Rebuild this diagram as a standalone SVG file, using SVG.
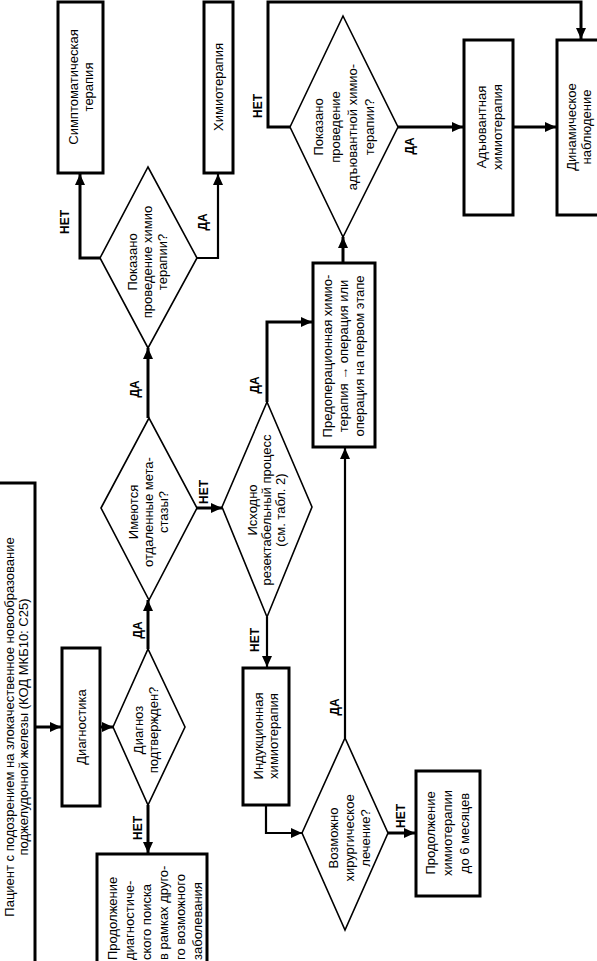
<svg xmlns="http://www.w3.org/2000/svg" width="597" height="961" viewBox="0 0 597 961">
<style>
  .box{fill:#fff;stroke:#000;stroke-width:3}
  .dia{fill:#fff;stroke:#000;stroke-width:1.6}
  .ln{fill:none;stroke:#000;stroke-width:2.2}
  .tk{fill:none;stroke:#000;stroke-width:3}
  text{font-family:"Liberation Sans","DejaVu Sans",sans-serif;font-size:13px;fill:#000}
  .c{text-anchor:middle}
  .lbl{font-size:12px;font-weight:bold;text-anchor:middle}
</style>
<defs>
  <marker id="ar" markerUnits="userSpaceOnUse" markerWidth="14" markerHeight="12" refX="11" refY="5" orient="auto">
    <path d="M0,0 L11,5 L0,10 Z" fill="#000"/>
  </marker>
</defs>
<rect width="597" height="961" fill="#fff"/>

<g id="connectors">
  <line class="tk" x1="35" y1="727" x2="61" y2="727" marker-end="url(#ar)"/>
  <line class="tk" x1="100" y1="727" x2="113" y2="727" marker-end="url(#ar)"/>
  <line class="tk" x1="148" y1="649" x2="148" y2="600" marker-end="url(#ar)"/>
  <line class="tk" x1="148" y1="805" x2="148" y2="853" marker-end="url(#ar)"/>
  <line class="tk" x1="148" y1="418" x2="148" y2="348" marker-end="url(#ar)"/>
  <line class="tk" x1="197" y1="508" x2="222" y2="508" marker-end="url(#ar)"/>
  <polyline class="tk" points="100,258 80,258 80,174" marker-end="url(#ar)"/>
  <polyline class="ln" points="197,258 218,258 218,174" marker-end="url(#ar)"/>
  <polyline class="tk" points="267,402 267,322 312,322" marker-end="url(#ar)"/>
  <line class="ln" x1="267" y1="617" x2="267" y2="667" marker-end="url(#ar)"/>
  <polyline class="ln" points="266,805 266,833 302,833" marker-end="url(#ar)"/>
  <line class="ln" x1="345" y1="738" x2="345" y2="448" marker-end="url(#ar)"/>
  <line class="tk" x1="388" y1="833" x2="415" y2="833" marker-end="url(#ar)"/>
  <line class="tk" x1="343" y1="262" x2="343" y2="237" marker-end="url(#ar)"/>
  <polyline class="tk" points="290,127 268,127 268,2 581,2 581,39" marker-end="url(#ar)"/>
  <line class="tk" x1="398" y1="127" x2="463" y2="127" marker-end="url(#ar)"/>
  <line class="tk" x1="513" y1="127" x2="556" y2="127" marker-end="url(#ar)"/>
  <g id="labels">
    <text class="lbl" transform="translate(142,630) rotate(-90)">ДА</text>
    <text class="lbl" transform="translate(142,828) rotate(-90)">НЕТ</text>
    <text class="lbl" transform="translate(208,492) rotate(-90)">НЕТ</text>
    <text class="lbl" transform="translate(139,389) rotate(-90)">ДА</text>
    <text class="lbl" transform="translate(69,222) rotate(-90)">НЕТ</text>
    <text class="lbl" transform="translate(207,222) rotate(-90)">ДА</text>
    <text class="lbl" transform="translate(259,385) rotate(-90)">ДА</text>
    <text class="lbl" transform="translate(259,640) rotate(-90)">НЕТ</text>
    <text class="lbl" transform="translate(339,707) rotate(-90)">ДА</text>
    <text class="lbl" transform="translate(405,816) rotate(-90)">НЕТ</text>
    <text class="lbl" transform="translate(262,106) rotate(-90)">НЕТ</text>
    <text class="lbl" transform="translate(414,146) rotate(-90)">ДА</text>
  </g>
</g>

<g id="patient">
  <rect class="box" x="-5" y="483" width="40" height="490"/>
  <g transform="translate(16,727) rotate(-90)">
    <text class="c" y="-2" font-size="12.2">Пациент с подозрением на злокачественное новообразование</text>
    <text class="c" y="12" font-size="12.2">поджелудочной железы (КОД МКБ10: С25)</text>
  </g>
</g>

<g id="diagnostika">
  <rect class="box" x="62" y="648" width="38" height="158"/>
  <text class="c" transform="translate(81,727) rotate(-90)" y="5" font-size="14">Диагностика</text>
</g>

<g id="d-diagnoz">
  <polygon class="dia" points="113,727 148,649 185,727 148,805"/>
  <g transform="translate(146,730) rotate(-90)">
    <text class="c" y="-3">Диагноз</text>
    <text class="c" y="12">подтвержден?</text>
  </g>
</g>

<g id="prodolzhenie-diag">
  <rect class="box" x="97" y="854" width="110" height="130"/>
  <g transform="translate(97,960) rotate(-90)">
    <text y="20">Продолжение</text>
    <text y="37">диагностиче-</text>
    <text y="54">ского поиска</text>
    <text y="71">в рамках друго-</text>
    <text y="88">го возможного</text>
    <text y="105">заболевания</text>
  </g>
</g>

<g id="d-metastazy">
  <polygon class="dia" points="101,508 149,418 197,508 149,600"/>
  <g transform="translate(149,512) rotate(-90)">
    <text class="c" y="-11">Имеются</text>
    <text class="c" y="4">отдаленные мета-</text>
    <text class="c" y="19">стазы?</text>
  </g>
</g>

<g id="d-himio">
  <polygon class="dia" points="100,258 148,167 197,258 148,348"/>
  <g transform="translate(148,262) rotate(-90)">
    <text class="c" y="-11">Показано</text>
    <text class="c" y="4">проведение химио</text>
    <text class="c" y="19">терапии?</text>
  </g>
</g>

<g id="simptomaticheskaya">
  <rect class="box" x="58" y="2" width="45" height="171"/>
  <g transform="translate(81,87) rotate(-90)">
    <text class="c" y="-3">Симптоматическая</text>
    <text class="c" y="12">терапия</text>
  </g>
</g>

<g id="himioterapiya">
  <rect class="box" x="204" y="2" width="29" height="171"/>
  <text class="c" transform="translate(218,87) rotate(-90)" y="4.5">Химиотерапия</text>
</g>

<g id="d-rezektabelny">
  <polygon class="dia" points="222,507 267,402 312,507 267,617"/>
  <g transform="translate(267,510) rotate(-90)">
    <text class="c" y="-10" font-size="12.5">Исходно</text>
    <text class="c" y="4" font-size="12.5">резектабельный процесс</text>
    <text class="c" y="18" font-size="12.5">(см. табл. 2)</text>
  </g>
</g>

<g id="predoperacionnaya">
  <rect class="box" x="313" y="263" width="62" height="184"/>
  <g transform="translate(344,356) rotate(-90)">
    <text class="c" y="-12" font-size="12.5">Предоперационная химио-</text>
    <text class="c" y="4" font-size="12.5">терапия → операция или</text>
    <text class="c" y="20" font-size="12.5">операция на первом этапе</text>
  </g>
</g>

<g id="indukcionnaya">
  <rect class="box" x="243" y="668" width="46" height="137"/>
  <g transform="translate(266,736) rotate(-90)">
    <text class="c" y="-3">Индукционная</text>
    <text class="c" y="12">химиотерапия</text>
  </g>
</g>

<g id="d-hirurgiya">
  <polygon class="dia" points="302,833 345,738 388,833 345,930"/>
  <g transform="translate(350,838) rotate(-90)">
    <text class="c" y="-12">Возможно</text>
    <text class="c" y="4">хирургическое</text>
    <text class="c" y="20">лечение?</text>
  </g>
</g>

<g id="prodolzhenie-himio">
  <rect class="box" x="416" y="771" width="64" height="125"/>
  <g transform="translate(448,833) rotate(-90)">
    <text class="c" y="-13" font-size="13.5">Продолжение</text>
    <text class="c" y="4" font-size="13.5">химиотерапии</text>
    <text class="c" y="21" font-size="13.5">до 6 месяцев</text>
  </g>
</g>

<g id="d-adjuvant">
  <polygon class="dia" points="290,127 343,16 398,127 343,237"/>
  <g transform="translate(344,127) rotate(-90)">
    <text class="c" y="-21">Показано</text>
    <text class="c" y="-4">проведение</text>
    <text class="c" y="13">адъювантной химио-</text>
    <text class="c" y="30">терапии?</text>
  </g>
</g>

<g id="adjuvantnaya">
  <rect class="box" x="464" y="40" width="49" height="175"/>
  <g transform="translate(489,127) rotate(-90)">
    <text class="c" y="-3" font-size="13.5">Адъювантная</text>
    <text class="c" y="13" font-size="13.5">химиотерапия</text>
  </g>
</g>

<g id="dinamicheskoe">
  <rect class="box" x="557" y="40" width="50" height="175"/>
  <g transform="translate(578,127) rotate(-90)">
    <text class="c" y="-2" font-size="13.5">Динамическое</text>
    <text class="c" y="13" font-size="13.5">наблюдение</text>
  </g>
</g>
</svg>
